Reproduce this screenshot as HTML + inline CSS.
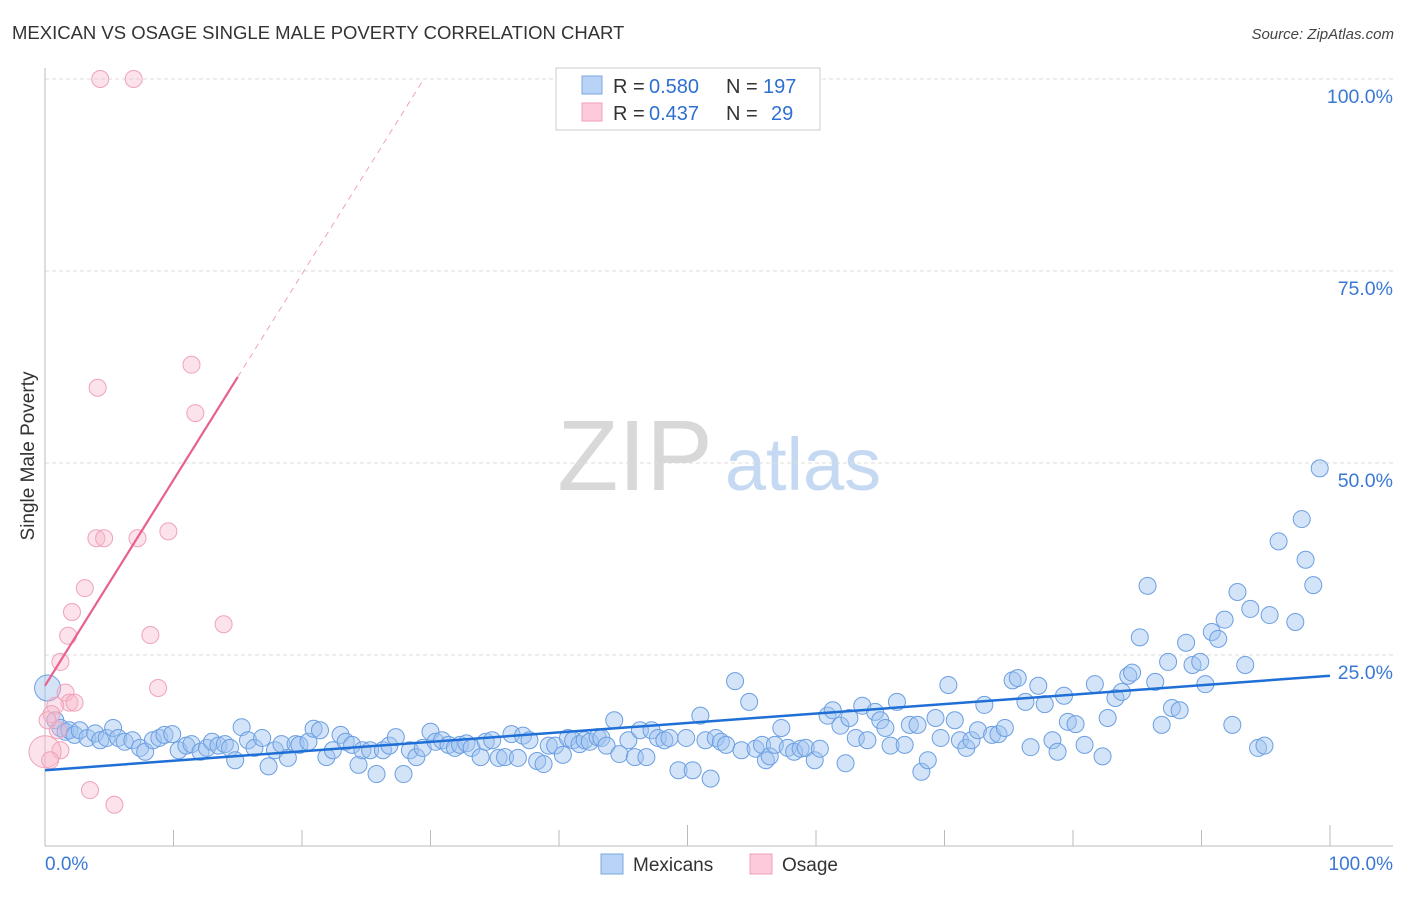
<!DOCTYPE html>
<html><head><meta charset="utf-8"><style>
body{margin:0;background:#fff;font-family:"Liberation Sans",sans-serif;}
svg text{font-family:"Liberation Sans",sans-serif;}
</style></head><body>
<svg id="chart" width="1406" height="892">
<text x="12" y="39" font-size="18.5" fill="#333">MEXICAN VS OSAGE SINGLE MALE POVERTY CORRELATION CHART</text>
<text x="1394" y="39" font-size="15" fill="#444" font-style="italic" text-anchor="end">Source: ZipAtlas.com</text>
<g>
<text x="635" y="490" font-size="100" fill="#d8d8d8" font-family="Liberation Serif" text-anchor="middle">ZIP</text>
<text x="803" y="490" font-size="74" fill="#c5d9f2" text-anchor="middle">atlas</text>
</g>
<g id="grid"></g>
<g id="axes"></g>
<g id="marks"></g>
<g>
<rect x="556" y="68" width="264" height="62" fill="#fff" stroke="#ccc"/>
<rect x="582" y="76" width="20" height="18" fill="#b8d3f5" stroke="#7aa8e0"/>
<rect x="582" y="103" width="20" height="18" fill="#fccadb" stroke="#f0a0b8"/>
<text x="613" y="93" font-size="20" fill="#333">R =</text>
<text x="649" y="93" font-size="20" fill="#2f6fd0">0.580</text>
<text x="726" y="93" font-size="20" fill="#333">N =</text>
<text x="763" y="93" font-size="20" fill="#2f6fd0">197</text>
<text x="613" y="120" font-size="20" fill="#333">R =</text>
<text x="649" y="120" font-size="20" fill="#2f6fd0">0.437</text>
<text x="726" y="120" font-size="20" fill="#333">N =</text>
<text x="771" y="120" font-size="20" fill="#2f6fd0">29</text>
</g>
<g>
<rect x="601" y="854" width="22" height="20" fill="#b8d3f5" stroke="#7aa8e0"/>
<text x="633" y="871" font-size="19" fill="#333">Mexicans</text>
<rect x="750" y="854" width="22" height="20" fill="#fccadb" stroke="#f0a0b8"/>
<text x="782" y="871" font-size="19" fill="#333">Osage</text>
</g>
<text transform="translate(34,456) rotate(-90)" font-size="19" fill="#333" text-anchor="middle">Single Male Poverty</text>
</svg>
<script>
const yTicks=[100,75,50,25];
const yTickLabels=["100.0%","75.0%","50.0%","25.0%"];
const xTicks=[10,20,30,40,50,60,70,80,90,100];
const mexX=[0.2,0.8,1.2,1.6,1.9,2.3,2.7,3.3,3.9,4.3,4.8,5.3,5.7,6.2,6.8,7.4,7.8,8.4,8.9,9.3,9.9,10.4,11.0,11.4,12.1,12.6,13.0,13.5,14.0,14.4,14.8,15.3,15.8,16.3,16.9,17.4,17.9,18.4,18.9,19.5,19.8,20.5,20.9,21.4,21.9,22.4,23.0,23.4,23.9,24.4,24.7,25.3,25.8,26.3,26.8,27.3,27.9,28.4,28.9,29.4,30.0,30.4,30.9,31.4,31.9,32.3,32.8,33.2,33.9,34.3,34.8,35.3,35.8,36.3,36.8,37.2,37.7,38.3,38.8,39.2,39.7,40.3,40.7,41.1,41.6,42.0,42.4,43.0,43.3,43.7,44.3,44.7,45.4,45.9,46.3,46.8,47.2,47.7,48.2,48.6,49.3,49.9,50.4,51.0,51.4,51.8,52.2,52.6,53.0,53.7,54.2,54.8,55.3,55.8,56.1,56.4,56.8,57.3,57.8,58.3,58.8,59.2,59.9,60.3,60.9,61.3,61.9,62.3,62.6,63.1,63.6,64.0,64.6,65.0,65.4,65.8,66.3,66.9,67.3,67.9,68.2,68.7,69.3,69.7,70.3,70.8,71.2,71.7,72.1,72.6,73.1,73.7,74.2,74.7,75.3,75.7,76.3,76.7,77.3,77.8,78.4,78.8,79.3,79.6,80.2,80.9,81.7,82.3,82.7,83.3,83.8,84.3,84.6,85.2,85.8,86.4,86.9,87.4,87.7,88.3,88.8,89.3,89.9,90.3,90.8,91.3,91.8,92.4,92.8,93.4,93.8,94.4,94.9,95.3,96.0,97.3,97.8,98.1,98.7,99.2];
const mexY=[20.7,16.5,15.5,15.0,15.2,14.6,15.2,14.2,14.8,13.9,14.2,15.5,14.2,13.7,13.9,12.9,12.4,13.9,14.2,14.6,14.7,12.6,13.2,13.4,12.4,12.9,13.7,13.2,13.4,12.9,11.3,15.6,13.9,12.9,14.2,10.5,12.6,13.4,11.6,13.4,13.3,13.7,15.4,15.2,11.7,12.6,14.6,13.7,13.3,10.7,12.6,12.6,9.5,12.6,13.2,14.3,9.5,12.6,11.7,12.9,15.0,13.7,13.9,13.3,12.9,13.3,13.5,12.9,11.7,13.7,13.9,11.6,11.7,14.7,11.6,14.5,13.9,11.2,10.8,13.2,13.2,12.0,14.2,13.9,13.4,13.9,13.7,14.3,14.2,13.2,16.5,12.1,13.9,11.7,15.2,11.7,15.2,14.2,13.9,14.2,10.0,14.2,10.0,17.1,13.9,8.9,14.2,13.7,13.3,21.6,12.6,18.9,12.8,13.3,11.3,11.8,13.3,15.5,12.9,12.4,12.8,12.9,11.3,12.8,17.1,17.8,15.8,10.9,16.8,14.2,18.4,13.9,17.6,16.5,15.5,13.2,18.9,13.3,15.9,15.9,9.8,11.3,16.8,14.2,21.1,16.5,13.9,12.9,13.9,15.2,18.5,14.6,14.7,15.5,21.7,22.0,18.9,13.0,21.0,18.6,13.9,12.4,19.7,16.3,16.0,13.3,21.2,11.8,16.8,19.4,20.2,22.3,22.7,27.3,34.0,21.5,15.9,24.1,18.1,17.8,26.6,23.7,24.1,21.2,28.0,27.1,29.6,15.9,33.2,23.7,31.0,12.9,13.2,30.2,39.8,29.3,42.7,37.4,34.1,49.3];
const osaX=[4.3,6.9,11.4,4.1,11.7,4.0,4.6,7.2,9.6,3.1,2.1,1.8,8.2,13.9,1.2,8.8,1.6,1.9,2.3,0.8,0.5,1.0,0.2,1.2,3.5,5.4,0,0.4];
const osaY=[100,100,62.8,59.8,56.5,40.2,40.2,40.2,41.1,33.7,30.6,27.5,27.6,29.0,24.1,20.7,20.1,18.8,18.8,18.4,17.3,15.2,16.5,12.6,7.4,5.5,12.4,11.3];
const mexTrend=[10.0,22.3];
const osaTrend=[21.0,61.2];
const osaTrendEndX=15;
const X0=45,X1=1330,Y0=847,Y100=79;
const sx=v=>X0+(X1-X0)*v/100;
const sy=v=>Y0-(Y0-Y100)*v/100;
const NS="http://www.w3.org/2000/svg";
function mk(tag,parent,attrs){const e=document.createElementNS(NS,tag);for(const k in attrs)e.setAttribute(k,attrs[k]);parent.appendChild(e);return e;}
const grid=document.getElementById('grid'),axes=document.getElementById('axes'),marks=document.getElementById('marks');
yTicks.forEach((t,i)=>{
 const l=mk('line',grid,{x1:45,x2:1393,y1:sy(t),y2:sy(t),stroke:'#ddd','stroke-dasharray':'4,3'});
 
 
 const tx=mk('text',axes,{x:1393,y:sy(t)+24,'font-size':19.5,fill:'#3a78d4','text-anchor':'end'});
 tx.textContent=yTickLabels[i];
 
 
});
const ya=mk('line',axes,{x1:45,x2:45,y1:68,y2:846,stroke:'#bbb'});


const xa=mk('line',axes,{x1:45,x2:1393,y1:846,y2:846,stroke:'#bbb'});


xTicks.forEach(t=>{
 const l=mk('line',axes,{x1:sx(t),x2:sx(t),y1:(t%50===0?825:830),y2:846,stroke:'#bbb'});
 
 
});
const xl0=mk('text',axes,{x:45,y:870,'font-size':19,fill:'#3a78d4'});xl0.textContent='0.0%';


const xl1=mk('text',axes,{x:1393,y:870,'font-size':19,fill:'#3a78d4','text-anchor':'end'});xl1.textContent='100.0%';


mexX.forEach((v,i)=>{
 const c=mk('circle',marks,{cx:sx(v),cy:sy(mexY[i]),r:i===0?13:8.5,fill:'rgba(160,196,240,0.45)',stroke:'#6b9fe2','stroke-width':1});
 
 
});
osaX.forEach((v,i)=>{
 const c=mk('circle',marks,{cx:sx(v),cy:sy(osaY[i]),r:i===26?16:8.5,fill:'rgba(248,182,202,0.4)',stroke:'#f0a2ba','stroke-width':1});
 
 
});
const bl=mk('line',marks,{x1:sx(0),y1:sy(mexTrend[0]),x2:sx(100),y2:sy(mexTrend[1]),stroke:'#1f6fd6','stroke-width':2.5});


const slope=(osaTrend[1]-osaTrend[0])/osaTrendEndX;
const pl=mk('line',marks,{x1:sx(0),y1:sy(osaTrend[0]),x2:sx(osaTrendEndX),y2:sy(osaTrend[1]),stroke:'#e8608e','stroke-width':2.2});


const xe=(100-osaTrend[0])/slope;
const pd=mk('line',marks,{x1:sx(osaTrendEndX),y1:sy(osaTrend[1]),x2:sx(xe),y2:sy(100),stroke:'#f0a2ba','stroke-width':1,'stroke-dasharray':'6,5'});


</script>
</body></html>
